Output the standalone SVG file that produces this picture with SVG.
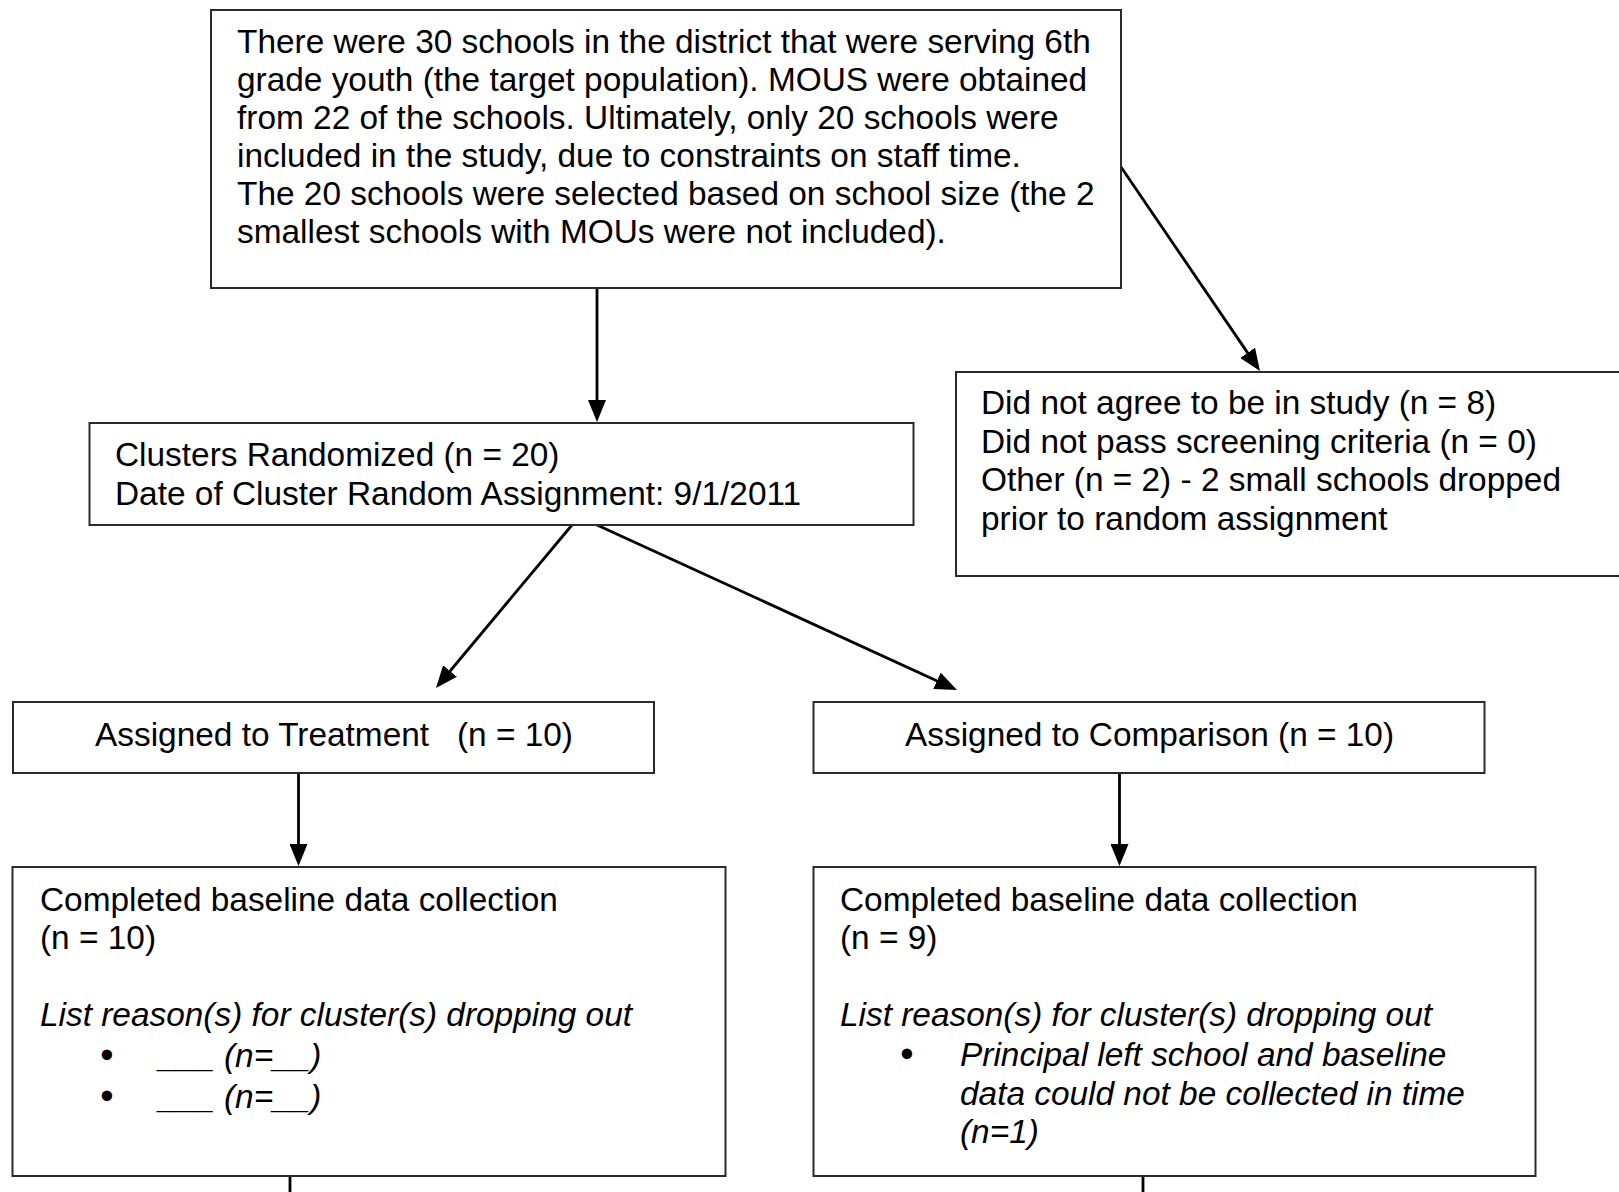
<svg xmlns="http://www.w3.org/2000/svg" width="1619" height="1192" viewBox="0 0 1619 1192">
<style>
  .box { fill: #ffffff; stroke: #2a2a2a; stroke-width: 2; }
  .t { font-family: "Liberation Sans", Arial, sans-serif; font-size: 33.4px; fill: #000000; white-space: pre; }
  .i { font-style: italic; }
  .b { font-size: 38px; }
  .conn { stroke: #000000; stroke-width: 2.8; fill: none; }
</style>
<defs>
  <marker id="ah" markerUnits="userSpaceOnUse" markerWidth="22" markerHeight="18" viewBox="0 0 22 18" refX="11" refY="9" orient="auto">
    <path d="M0,0 L22,9 L0,18 z" fill="#000000"/>
  </marker>
</defs>
<rect x="0" y="0" width="1619" height="1192" fill="#ffffff"/>

<g id="connectors">
  <line class="conn" x1="597" y1="289" x2="597" y2="411" marker-end="url(#ah)"/>
  <line class="conn" x1="1121" y1="167" x2="1253.8" y2="361.9" marker-end="url(#ah)"/>
  <line class="conn" x1="572" y1="525" x2="443" y2="679.5" marker-end="url(#ah)"/>
  <line class="conn" x1="597" y1="525" x2="947" y2="685.4" marker-end="url(#ah)"/>
  <line class="conn" x1="298.5" y1="773" x2="298.5" y2="855" marker-end="url(#ah)"/>
  <line class="conn" x1="1119.5" y1="773" x2="1119.5" y2="855" marker-end="url(#ah)"/>
  <line class="conn" x1="290" y1="1176" x2="290" y2="1200"/>
  <line class="conn" x1="1143" y1="1176" x2="1143" y2="1200"/>
</g>

<g id="node-schools">
  <rect class="box" x="211" y="10" width="910" height="278"/>
  <text class="t" x="237" y="53">There were 30 schools in the district that were serving 6th</text>
  <text class="t" x="237" y="91">grade youth (the target population). MOUS were obtained</text>
  <text class="t" x="237" y="129">from 22 of the schools. Ultimately, only 20 schools were</text>
  <text class="t" x="237" y="167">included in the study, due to constraints on staff time.</text>
  <text class="t" x="237" y="205">The 20 schools were selected based on school size (the 2</text>
  <text class="t" x="237" y="243">smallest schools with MOUs were not included).</text>
</g>

<g id="node-excluded">
  <rect class="box" x="956" y="372" width="680" height="204"/>
  <text class="t" x="981" y="414">Did not agree to be in study (n = 8)</text>
  <text class="t" x="981" y="453">Did not pass screening criteria (n = 0)</text>
  <text class="t" x="981" y="491">Other (n = 2) - 2 small schools dropped</text>
  <text class="t" x="981" y="530">prior to random assignment</text>
</g>

<g id="node-randomized">
  <rect class="box" x="89.5" y="423" width="824" height="102"/>
  <text class="t" x="115" y="466">Clusters Randomized (n = 20)</text>
  <text class="t" x="115" y="505">Date of Cluster Random Assignment: 9/1/2011</text>
</g>

<g id="node-treatment">
  <rect class="box" x="13" y="702" width="641" height="71"/>
  <text class="t" x="95" y="746">Assigned to Treatment   (n = 10)</text>
</g>

<g id="node-comparison">
  <rect class="box" x="813.5" y="702" width="671" height="71"/>
  <text class="t" x="905" y="746">Assigned to Comparison (n = 10)</text>
</g>

<g id="node-baseline-treatment">
  <rect class="box" x="12.5" y="867" width="713" height="309"/>
  <text class="t" x="40" y="911">Completed baseline data collection</text>
  <text class="t" x="40" y="949">(n = 10)</text>
  <text class="t i" x="40" y="1026">List reason(s) for cluster(s) dropping out</text>
  <text class="t b" x="107" y="1068" text-anchor="middle">•</text>
  <text class="t i" x="159" y="1067">___ (n=__)</text>
  <text class="t b" x="107" y="1109" text-anchor="middle">•</text>
  <text class="t i" x="159" y="1108">___ (n=__)</text>
</g>

<g id="node-baseline-comparison">
  <rect class="box" x="813.5" y="867" width="722" height="309"/>
  <text class="t" x="840" y="911">Completed baseline data collection</text>
  <text class="t" x="840" y="949">(n = 9)</text>
  <text class="t i" x="840" y="1026">List reason(s) for cluster(s) dropping out</text>
  <text class="t b" x="907" y="1067" text-anchor="middle">•</text>
  <text class="t i" x="960" y="1066">Principal left school and baseline</text>
  <text class="t i" x="960" y="1105">data could not be collected in time</text>
  <text class="t i" x="960" y="1143">(n=1)</text>
</g>
</svg>
